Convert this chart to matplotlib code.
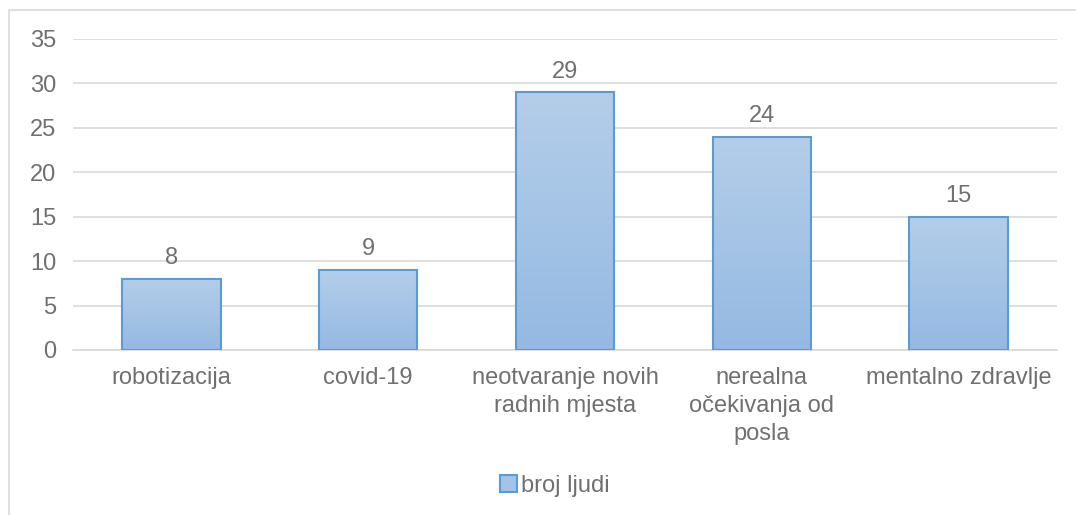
import matplotlib
matplotlib.use("Agg")
import matplotlib.pyplot as plt
import numpy as np
from matplotlib.patches import Rectangle, Patch
from matplotlib.colors import LinearSegmentedColormap

categories = ["robotizacija", "covid-19", "neotvaranje novih\nradnih mjesta",
              "nerealna\nočekivanja od\nposla", "mentalno zdravlje"]
values = [8, 9, 29, 24, 15]
series_name = "broj ljudi"
yticks = [0, 5, 10, 15, 20, 25, 30, 35]

plt.rcParams['font.family'] = ['Liberation Sans', 'DejaVu Sans']
text_color = "#707070"
grid_color = "#d9d9d9"
edge_color = "#5b9bd5"
cmap = LinearSegmentedColormap.from_list("g", ["#95b9e3", "#b4cee9"])

W, H = 1076, 515
fig = plt.figure(figsize=(W / 100, H / 100), dpi=100)

# chart border (top/left visible)
fig.patches.append(Rectangle((9 / W, -0.1), 1.2, (H - 10) / H + 0.1,
                             transform=fig.transFigure, fill=False,
                             edgecolor=grid_color, linewidth=1.2))

ax = fig.add_axes([73 / W, (H - 350) / H, (1057 - 73) / W, (350 - 39) / H])
x = np.arange(len(categories))
bars = ax.bar(x, values, width=0.5, color="none", edgecolor=edge_color,
              linewidth=1.5, zorder=3, label=series_name)

grad = np.linspace(0, 1, 256).reshape(-1, 1)
for b in bars:
    x0, y0 = b.get_x(), b.get_y()
    w, h = b.get_width(), b.get_height()
    im = ax.imshow(grad, extent=[x0, x0 + w, y0, y0 + h], origin="lower",
                   cmap=cmap, aspect="auto", zorder=2)
    im.set_clip_path(b)

for b, v in zip(bars, values):
    ax.annotate(str(v), (b.get_x() + b.get_width() / 2, v), xytext=(0, 7),
                textcoords="offset points", ha="center", va="bottom",
                fontsize=17, color=text_color)

ax.set_xlim(-0.5, len(categories) - 0.5)
ax.set_ylim(0, 35)
ax.set_yticks(yticks)
ax.set_xticks(x)
ax.set_xticklabels(categories, fontsize=17, color=text_color, linespacing=1.36)
ax.tick_params(axis="y", labelsize=17, labelcolor=text_color, length=0, pad=12)
ax.tick_params(axis="x", length=0, pad=12)
ax.grid(axis="y", color=grid_color, linewidth=1.2, zorder=0)
ax.set_axisbelow(True)
for s in ["top", "right", "left"]:
    ax.spines[s].set_visible(False)
ax.spines["bottom"].set_color(grid_color)
ax.spines["bottom"].set_linewidth(1.2)

handle = Patch(facecolor="#a5c3e6", edgecolor=edge_color, linewidth=1.5)
leg = fig.legend([handle], [series_name], loc="center",
                 bbox_to_anchor=(555 / W, (H - 486) / H), frameon=False,
                 fontsize=17, handlelength=0.7, handleheight=0.7,
                 handletextpad=0.2, labelcolor=text_color)

fig.savefig("out.png", dpi=100, facecolor="white")
